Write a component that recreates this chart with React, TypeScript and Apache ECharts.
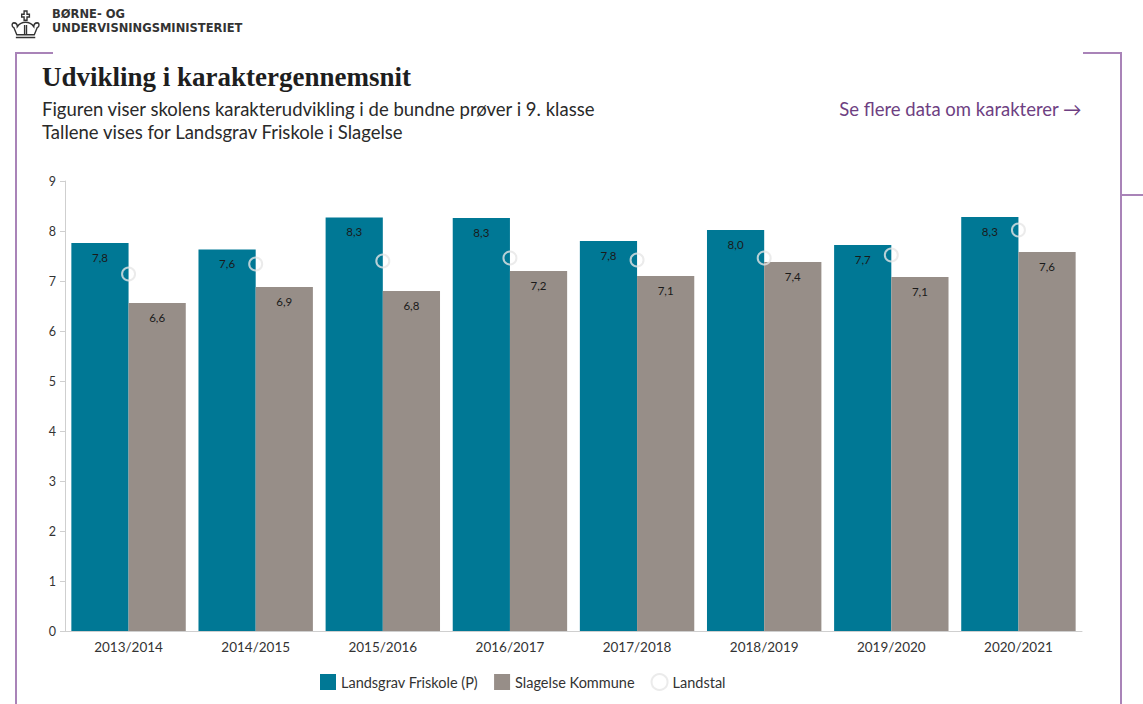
import React, { useEffect, useRef } from "react";
import * as echarts from "echarts";

const categories = ["2013/2014", "2014/2015", "2015/2016", "2016/2017", "2017/2018", "2018/2019", "2019/2020", "2020/2021"];
const schoolValues = [7.76, 7.63, 8.27, 8.26, 7.8, 8.02, 7.72, 8.28];
const municipalityValues = [6.56, 6.88, 6.8, 7.2, 7.1, 7.38, 7.08, 7.58];
const nationalValues = [7.14, 7.34, 7.4, 7.46, 7.42, 7.46, 7.52, 8.02];
const yTicks = [0, 1, 2, 3, 4, 5, 6, 7, 8, 9];

const seriesNames = ["Landsgrav Friskole (P)", "Slagelse Kommune", "Landstal"];

const TEAL = "#007895";
const GREY = "#978e88";
const PURPLE = "#a983b8";

const crownPath =
  "M13.5 0 H16.5 V3 H19 V5.5 H16.5 V8.5 H13.5 V5.5 H11 V3 H13.5 Z " +
  "M3 11 C0.5 11 0.5 15 3 15.5 L6 22 H24 L27 15.5 C29.5 15 29.5 11 27 11 C25 11 23.5 12.5 23.5 14.5 C21.5 12 18.5 10.5 15 10.5 C11.5 10.5 8.5 12 6.5 14.5 C6.5 12.5 5 11 3 11 Z " +
  "M14 13 V22 M16 13 V22 M5 24.5 H25";

echarts.graphic.registerShape("crown", (echarts.graphic as any).extendPath(crownPath, {}));

const fmt = (v: number) => v.toFixed(1).replace(".", ",");

export default function App() {
  const ref = useRef<HTMLDivElement>(null);
  useEffect(() => {
    if (!ref.current) return;
    const chart = echarts.init(ref.current, null, { renderer: "svg" });
    const sans = "Lato, 'Noto Sans', sans-serif";
    chart.setOption({
      animation: false,
      backgroundColor: "#ffffff",
      textStyle: { fontFamily: sans },
      grid: { left: 65, right: 61, top: 181, bottom: 73, containLabel: false },
      xAxis: {
        type: "category",
        data: categories,
        axisLine: { lineStyle: { color: "#cfcfcf" } },
        axisTick: { alignWithLabel: true, length: 5, lineStyle: { color: "#cfcfcf" } },
        axisLabel: { color: "#333", fontSize: 13.5, margin: 9, fontFamily: sans },
      },
      yAxis: {
        type: "value",
        min: yTicks[0],
        max: yTicks[yTicks.length - 1],
        interval: 1,
        axisLine: { show: true, lineStyle: { color: "#cfcfcf" } },
        axisTick: { show: true, length: 5, lineStyle: { color: "#cfcfcf" } },
        splitLine: { show: false },
        axisLabel: { color: "#333", fontSize: 12.5, margin: 9, fontFamily: sans },
      },
      legend: {
        bottom: 8,
        left: 315,
        itemWidth: 16,
        itemHeight: 16,
        itemGap: 16,
        textStyle: { color: "#333", fontSize: 14.5, fontFamily: sans },
        data: [
          { name: seriesNames[0], icon: "rect" },
          { name: seriesNames[1], icon: "rect" },
          { name: seriesNames[2], icon: "circle" },
        ],
      },
      series: [
        {
          name: seriesNames[0],
          type: "bar",
          data: schoolValues,
          barGap: "0%",
          barCategoryGap: "10%",
          itemStyle: { color: TEAL },
          label: {
            show: true,
            position: "insideTop",
            distance: 8,
            color: "#1a1a1a",
            fontSize: 11.5,
            formatter: (p: any) => fmt(p.value),
          },
        },
        {
          name: seriesNames[1],
          type: "bar",
          data: municipalityValues,
          barGap: "0%",
          barCategoryGap: "10%",
          itemStyle: { color: GREY },
          label: {
            show: true,
            position: "insideTop",
            distance: 8,
            color: "#1a1a1a",
            fontSize: 11.5,
            formatter: (p: any) => fmt(p.value),
          },
        },
        {
          name: seriesNames[2],
          type: "scatter",
          data: nationalValues,
          symbol: "circle",
          symbolSize: 13,
          z: 5,
          itemStyle: { color: "rgba(255,255,255,0)", borderColor: "#e6e6e6", borderWidth: 2 },
        },
      ],
      graphic: [
        {
          type: "crown",
          x: 11,
          y: 11,
          scaleX: 0.97,
          scaleY: 1.08,
          style: { fill: "none", stroke: "#333", lineWidth: 1.4 },
        },
        {
          type: "text",
          left: 52,
          top: 8,
          style: { text: "BØRNE- OG", fill: "#333", font: "bold 11.5px 'DejaVu Sans', sans-serif" },
        },
        {
          type: "text",
          left: 52,
          top: 22,
          style: { text: "UNDERVISNINGSMINISTERIET", fill: "#333", font: "bold 11.5px 'DejaVu Sans', sans-serif" },
        },
        { type: "line", shape: { x1: 16, y1: 53, x2: 16, y2: 704 }, style: { stroke: PURPLE, lineWidth: 2 } },
        { type: "line", shape: { x1: 15, y1: 53, x2: 53, y2: 53 }, style: { stroke: PURPLE, lineWidth: 2 } },
        { type: "line", shape: { x1: 1083, y1: 53, x2: 1122, y2: 53 }, style: { stroke: PURPLE, lineWidth: 2 } },
        { type: "line", shape: { x1: 1121, y1: 52, x2: 1121, y2: 704 }, style: { stroke: PURPLE, lineWidth: 2 } },
        { type: "line", shape: { x1: 1121, y1: 195, x2: 1143, y2: 195 }, style: { stroke: PURPLE, lineWidth: 2 } },
        {
          type: "text",
          left: 42,
          top: 63,
          style: {
            text: "Udvikling i karaktergennemsnit",
            fill: "#1e1e1e",
            font: "bold 27px 'Liberation Serif', 'DejaVu Serif', serif",
          },
        },
        {
          type: "text",
          left: 42,
          top: 99,
          style: {
            text: "Figuren viser skolens karakterudvikling i de bundne prøver i 9. klasse",
            fill: "#2a2a2a",
            font: "18.5px Lato, sans-serif",
          },
        },
        {
          type: "text",
          left: 42,
          top: 122,
          style: {
            text: "Tallene vises for Landsgrav Friskole i Slagelse",
            fill: "#2a2a2a",
            font: "18.5px Lato, sans-serif",
          },
        },
        {
          type: "text",
          right: 61,
          top: 99,
          style: {
            text: "Se flere data om karakterer \u2192",
            fill: "#6e3f82",
            font: "18.5px Lato, sans-serif",
          },
        },
      ],
    });
    return () => chart.dispose();
  }, []);
  return (
    <div
      ref={ref}
      style={{ position: "absolute", left: 0, top: 0, width: 1143, height: 704, background: "#fff" }}
    />
  );
}
